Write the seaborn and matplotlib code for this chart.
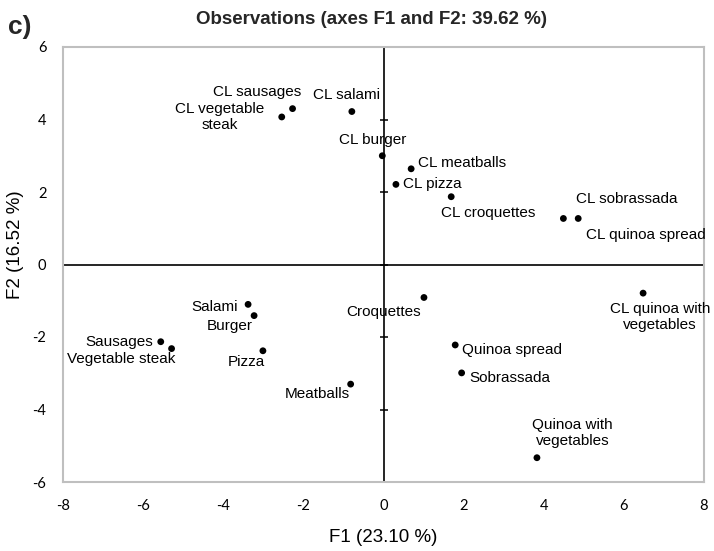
import matplotlib
matplotlib.use("Agg")
import matplotlib.pyplot as plt
import seaborn as sns
import pandas as pd

# ---- data ----
samples = [
    "CL sausages", "CL vegetable steak", "CL salami", "CL burger", "CL meatballs",
    "CL pizza", "CL croquettes", "CL sobrassada", "CL quinoa spread",
    "CL quinoa with vegetables", "Croquettes", "Salami", "Burger", "Sausages",
    "Vegetable steak", "Pizza", "Quinoa spread", "Sobrassada", "Meatballs",
    "Quinoa with vegetables",
]
f1 = [-2.27, -2.54, -0.79, -0.03, 0.69, 0.31, 1.69, 4.49, 4.86, 6.48,
      1.01, -3.38, -3.23, -5.56, -5.29, -3.01, 1.79, 1.95, -0.82, 3.83]
f2 = [4.30, 4.07, 4.22, 3.00, 2.64, 2.21, 1.87, 1.27, 1.27, -0.79,
      -0.91, -1.10, -1.41, -2.13, -2.32, -2.38, -2.22, -2.99, -3.30, -5.33]
x_ticks = [-8, -6, -4, -2, 0, 2, 4, 6, 8]
y_ticks = [-6, -4, -2, 0, 2, 4, 6]
title = "Observations (axes F1 and F2: 39.62 %)"
x_label = "F1 (23.10 %)"
y_label = "F2 (16.52 %)"

# ---- label layout (pixel offsets, alignment, wrapped text) ----
label_layout = {
    "CL sausages": (-35, 16.5, "center", "CL sausages"),
    "CL vegetable steak": (-62, 0, "center", "CL vegetable\nsteak"),
    "CL salami": (-5, 16.5, "center", "CL salami"),
    "CL burger": (-10, 16, "center", "CL burger"),
    "CL meatballs": (7, 6, "left", "CL meatballs"),
    "CL pizza": (7.5, 0.5, "left", "CL pizza"),
    "CL croquettes": (37, -16, "center", "CL croquettes"),
    "CL sobrassada": (63, 19, "center", "CL sobrassada"),
    "CL quinoa spread": (68, -17, "center", "CL quinoa spread"),
    "CL quinoa with vegetables": (17, -23.5, "center", "CL quinoa with\nvegetables"),
    "Croquettes": (-40.5, -15, "center", "Croquettes"),
    "Salami": (-10, -3, "right", "Salami"),
    "Burger": (-24, -10.5, "center", "Burger"),
    "Sausages": (-8, 0, "right", "Sausages"),
    "Vegetable steak": (-50.5, -10, "center", "Vegetable steak"),
    "Pizza": (-17, -11, "center", "Pizza"),
    "Quinoa spread": (7, -5, "left", "Quinoa spread"),
    "Sobrassada": (7.5, -5, "left", "Sobrassada"),
    "Meatballs": (-33, -10, "center", "Meatballs"),
    "Quinoa with vegetables": (35.5, 25, "center", "Quinoa with\nvegetables"),
}

sns.set_theme(style="white")
plt.rcParams["font.family"] = ["Liberation Sans", "DejaVu Sans"]

W, H = 714, 551
fig = plt.figure(figsize=(W / 100, H / 100), dpi=100)
ax = fig.add_axes([63 / W, 1 - 482 / H, (704 - 63) / W, (482 - 47) / H])

df = pd.DataFrame({"sample": samples, "F1": f1, "F2": f2})

ax.axhline(0, color="black", lw=1.2, zorder=1)
ax.axvline(0, color="black", lw=1.2, zorder=1)
ax.scatter([0] * len(y_ticks), y_ticks, marker="_", s=40, color="black",
           linewidths=1.1, zorder=2, clip_on=False)

sns.scatterplot(data=df, x="F1", y="F2", color="black", s=24, edgecolor="none",
                ax=ax, zorder=3, legend=False)

for name, x, y in zip(df["sample"], df["F1"], df["F2"]):
    dx, dy, ha, text = label_layout[name]
    ax.annotate(text, (x, y), xytext=(dx, dy), textcoords="offset pixels",
                ha=ha, va="center", fontsize=11, color="black",
                multialignment="center", annotation_clip=False)

ax.set_xlim(x_ticks[0], x_ticks[-1])
ax.set_ylim(y_ticks[0], y_ticks[-1])
ax.set_xticks(x_ticks)
ax.set_yticks(y_ticks)
ax.set_xticklabels([str(t) for t in x_ticks], fontfamily="Lato", fontsize=10.5)
ax.set_yticklabels([str(t) for t in y_ticks], fontfamily="Lato", fontsize=10.5)
ax.tick_params(axis="both", length=0, pad=12, colors="black")
for sp in ax.spines.values():
    sp.set_color("#bfbfbf")
    sp.set_linewidth(1.5)

ax.set_xlabel(x_label, fontsize=13.5, color="black")
ax.set_ylabel(y_label, fontsize=13.5, color="black")
ax.xaxis.set_label_coords(0.5, (482 - 537) / 435)
ax.yaxis.set_label_coords((15 - 63) / 641, (482 - 245) / 435)
ax.xaxis.label.set_va("center")
ax.yaxis.label.set_va("center")

fig.text(372 / W, 1 - 20 / H, title, ha="center", va="center",
         fontsize=13.5, fontweight="bold")
fig.text(8 / W, 1 - 27 / H, "c)", ha="left", va="center",
         fontsize=19, fontweight="bold")

fig.savefig("out.png", dpi=100)
